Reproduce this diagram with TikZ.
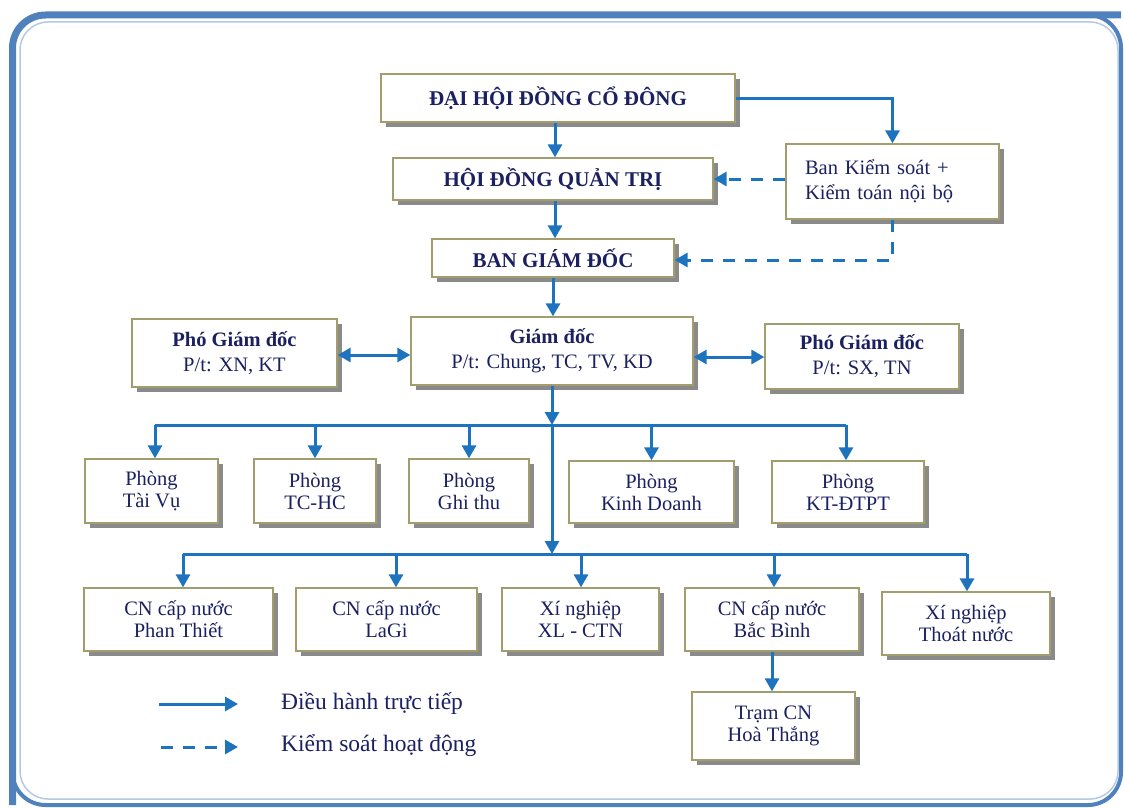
\documentclass[tikz,border=0pt]{standalone}
\usepackage{fontspec}
\setmainfont{Liberation Serif}
\usetikzlibrary{arrows.meta,shadows,calc}
\definecolor{navy}{HTML}{1B2060}
\definecolor{bborder}{HTML}{A39D6E}
\definecolor{arrowc}{HTML}{1E73BE}
\definecolor{framec}{HTML}{4F81BD}
\definecolor{framel}{HTML}{B4C9E6}
\definecolor{shadowc}{HTML}{8A8A8A}
\begin{document}
\begin{tikzpicture}[x=1pt,y=-1pt,
  box/.style={draw=bborder, line width=1.3pt, fill=white, text=navy, align=center,
    inner sep=0pt, font=\fontsize{20.5}{22}\selectfont,
    drop shadow={shadow xshift=4.5pt, shadow yshift=-4.5pt, fill=shadowc, opacity=1}},
  title/.style={box, font=\fontsize{21}{24}\selectfont\bfseries},
  arr/.style={draw=arrowc, line width=3pt, -{Triangle[width=14pt,length=13pt]}},
  barr/.style={draw=arrowc, line width=3pt, {Triangle[width=14pt,length=13pt]}-{Triangle[width=14pt,length=13pt]}},
  bus/.style={draw=arrowc, line width=3pt},
  dsh/.style={arr, dash pattern=on 12pt off 10pt},
  legend/.style={text=navy, anchor=west, font=\fontsize{23.5}{26}\selectfont, inner sep=0pt}
]
\useasboundingbox (0,0) rectangle (1124,808);
% frame
\draw[framec, line width=4pt, rounded corners=33pt] (12.5,15) rectangle (1121,805);
\draw[framec, line width=7pt, rounded corners=33pt] (12.5,805) -- (12.5,15) -- (1121,15);
\draw[framel, line width=1.5pt, rounded corners=28pt] (20,22) rectangle (1118,799);

% top
\node[title, minimum width=354pt, minimum height=48pt] (dhd) at (558,98) {ĐẠI HỘI ĐỒNG CỔ ĐÔNG};
\node[title, minimum width=320pt, minimum height=42pt] (hdqt) at (553,179) {HỘI ĐỒNG QUẢN TRỊ};
\node[title, minimum width=242pt, minimum height=38pt] (bgd) at (553,258) {BAN GIÁM ĐỐC};
\node[box, minimum width=213pt, minimum height=75pt, text width=175pt, align=left,
  font=\fontsize{20.5}{25}\selectfont] (bks) at (892.5,181.5) {Ban Kiểm  soát +\\Kiểm toán nội bộ};

% directors
\node[box, minimum width=282pt, minimum height=68pt, font=\fontsize{20.5}{25}\selectfont] (gd) at (552,351) {\textbf{Giám đốc}\\P/t: Chung, TC, TV, KD};
\node[box, minimum width=205pt, minimum height=68pt, font=\fontsize{20.5}{25}\selectfont] (pgd1) at (234.5,353) {\textbf{Phó Giám đốc}\\P/t: XN, KT};
\node[box, minimum width=194pt, minimum height=65pt, font=\fontsize{20.5}{25}\selectfont] (pgd2) at (862,356.5) {\textbf{Phó Giám đốc}\\P/t: SX, TN};

% departments
\node[box, minimum width=133pt, minimum height=64pt] (p1) at (151.5,491) {Phòng\\Tài Vụ};
\node[box, minimum width=122pt, minimum height=64pt] (p2) at (315,491) {Phòng\\TC-HC};
\node[box, minimum width=120pt, minimum height=64pt] (p3) at (469,491) {Phòng\\Ghi thu};
\node[box, minimum width=165pt, minimum height=62pt] (p4) at (651.5,492) {Phòng\\Kinh Doanh};
\node[box, minimum width=152pt, minimum height=62pt] (p5) at (848,492) {Phòng\\KT-ĐTPT};

% branches
\node[box, minimum width=189pt, minimum height=63pt] (c1) at (178.5,619.5) {CN cấp nước\\Phan Thiết};
\node[box, minimum width=181pt, minimum height=63pt] (c2) at (386.5,619.5) {CN cấp nước\\LaGi};
\node[box, minimum width=157pt, minimum height=63pt] (c3) at (580.5,619.5) {Xí nghiệp\\XL - CTN};
\node[box, minimum width=174pt, minimum height=63pt] (c4) at (772,619.5) {CN cấp nước\\Bắc Bình};
\node[box, minimum width=168pt, minimum height=63pt] (c5) at (966,623.5) {Xí nghiệp\\Thoát nước};
\node[box, minimum width=163pt, minimum height=68pt] (tram) at (773.5,726) {Trạm CN\\Hoà Thắng};

% connectors top
\draw[arr] (hdqt.north |- dhd.south) ++(2,0) coordinate (a1) -- (a1 |- hdqt.north);
\draw[arr] (hdqt.south) ++(2,0) coordinate (a2) -- (a2 |- bgd.north);
\draw[arr] (bgd.south) -- (bgd.south |- gd.north);
\draw[arr] (dhd.east) -| (bks.north);
\draw[dsh] (bks.west |- hdqt.east) -- (hdqt.east);
\draw[dsh] (bks.south) |- ($(bgd.east)+(0,2)$);
\draw[barr] (pgd1.east |- 0,355) -- (gd.west |- 0,355);
\draw[barr] (gd.east |- 0,357) -- (pgd2.west |- 0,357);

% buses
\coordinate (b1) at (552,425);
\coordinate (b2) at (552,554);
\draw[arr] (gd.south) -- (b1);
\draw[arr] (b1) -- (b2);
\coordinate (d1) at (155,425);
\coordinate (d5) at (846,425);
\draw[bus] (d1) -- (d5);
\draw[arr] (d1) -- (d1 |- p1.north);
\draw[arr] (p2.north |- b1) -- (p2.north);
\draw[arr] (p3.north |- b1) -- (p3.north);
\draw[arr] (p4.north |- b1) -- (p4.north);
\draw[arr] (d5) -- (d5 |- p5.north);

\coordinate (e1) at (183,554);
\coordinate (e5) at (967,554);
\draw[bus] (e1) -- (e5);
\draw[arr] (e1) -- (e1 |- c1.north);
\draw[arr] (396,554) coordinate (e2) -- (e2 |- c2.north);
\draw[arr] (581,554) coordinate (e3) -- (e3 |- c3.north);
\draw[arr] (774,554) coordinate (e4) -- (e4 |- c4.north);
\draw[arr] (e5) -- (e5 |- c5.north);
\draw[arr] (c4.south) -- (c4.south |- tram.north);

% legend
\coordinate (l1a) at (159,704);
\coordinate (l1b) at (238,704);
\coordinate (l2a) at (161,747);
\coordinate (l2b) at (238,747);
\draw[arr] (l1a) -- (l1b);
\draw[dsh] (l2a) -- (l2b);
\node[legend] (t1) at (281,703) {Điều hành trực tiếp};
\node[legend] (t2) at (281,746) {Kiểm soát hoạt động};
\end{tikzpicture}
\end{document}
